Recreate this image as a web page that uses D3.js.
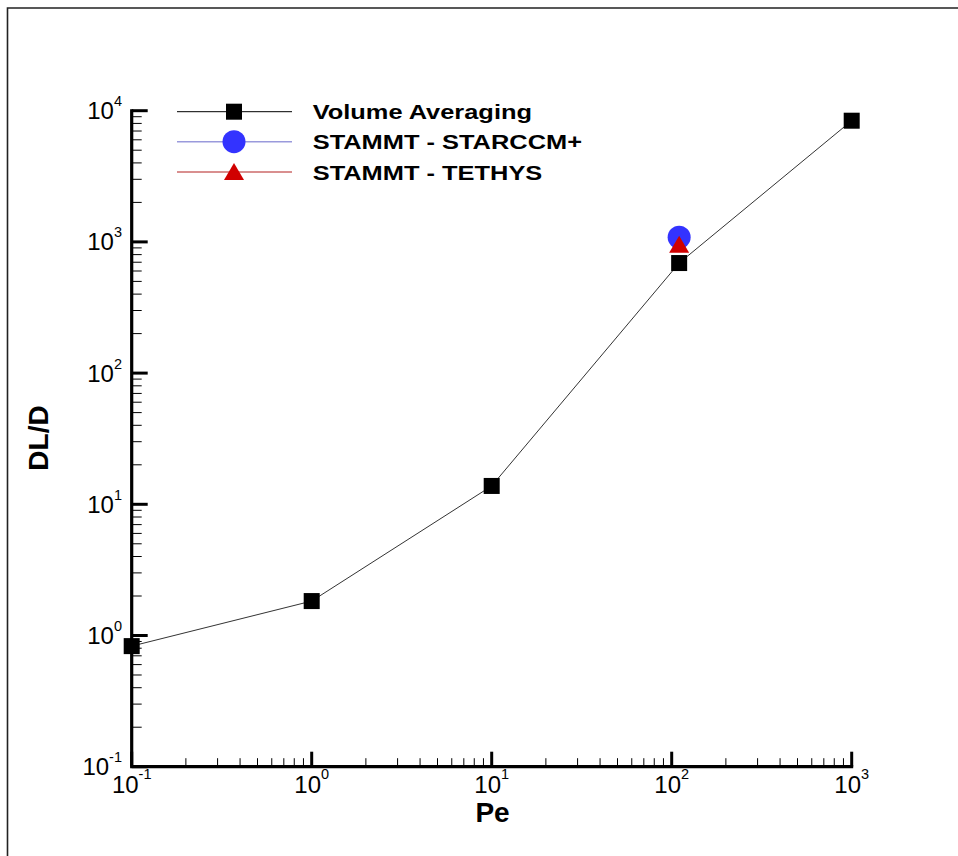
<!DOCTYPE html>
<html><head><meta charset="utf-8">
<script src="https://cdn.jsdelivr.net/npm/d3@7"></script>
<style>html,body{margin:0;padding:0;background:#fff;}svg{display:block;}</style>
</head><body>
<svg id="chart" width="958" height="856"></svg>
<script>
// ---- data ----
const peVA = [0.1, 1, 10, 110, 1000];
const dlVA = [0.83, 1.83, 13.8, 690, 8390];
const peStar = [110];
const dlStar = [1085];
const peTeth = [110];
const dlTeth = [935];
const xExponents = [-1, 0, 1, 2, 3];
const yExponents = [-1, 0, 1, 2, 3, 4];
const legendLabels = ["Volume Averaging", "STAMMT - STARCCM+", "STAMMT - TETHYS"];
const xTitle = "Pe";
const yTitle = "DL/D";

const svg = d3.select("#chart");
const font = "'Liberation Sans', Arial, Helvetica, sans-serif";

// frame
svg.append("path").attr("d","M7.5,856 V8 H958").attr("fill","none").attr("stroke","#222").attr("stroke-width",1.6);

const x = d3.scaleLog().domain([0.1, 1000]).range([131.7, 851.7]);
const y = d3.scaleLog().domain([0.1, 10000]).range([766.7, 110.7]);

const g = svg.append("g");

function minors(exps){
  const out=[];
  for(let i=0;i<exps.length-1;i++){for(let k=2;k<=9;k++){out.push(k*Math.pow(10,exps[i]));}}
  return out;
}
const x0 = x.range()[0], y0 = y.range()[0];
g.selectAll(".xminor").data(minors(xExponents)).enter().append("line")
  .attr("x1",d=>x(d)).attr("x2",d=>x(d)).attr("y1",y0).attr("y2",y0-8.5)
  .attr("stroke","#000").attr("stroke-width",1);
g.selectAll(".yminor").data(minors(yExponents)).enter().append("line")
  .attr("y1",d=>y(d)).attr("y2",d=>y(d)).attr("x1",x0).attr("x2",x0+10)
  .attr("stroke","#000").attr("stroke-width",1);
g.selectAll(".xmajor").data(xExponents).enter().append("line")
  .attr("x1",d=>x(Math.pow(10,d))).attr("x2",d=>x(Math.pow(10,d))).attr("y1",y0).attr("y2",y0-15)
  .attr("stroke","#000").attr("stroke-width",3);
g.selectAll(".ymajor").data(yExponents).enter().append("line")
  .attr("y1",d=>y(Math.pow(10,d))).attr("y2",d=>y(Math.pow(10,d))).attr("x1",x0).attr("x2",x0+16)
  .attr("stroke","#000").attr("stroke-width",3);
g.append("path").attr("d",`M${x0},${y(10000)-1.5} V${y0} H${x(1000)+1.5}`)
  .attr("fill","none").attr("stroke","#000").attr("stroke-width",3.2).attr("stroke-linejoin","miter");

const xl = g.selectAll(".xlab").data(xExponents).enter().append("text")
  .attr("x",d=>x(Math.pow(10,d))).attr("y",793.3).attr("text-anchor","middle")
  .attr("font-family",font).attr("font-size",24).attr("fill","#000");
xl.append("tspan").text("10");
xl.append("tspan").attr("font-size",14.5).attr("dy",-14.5).text(d=>String(d));

const yl = g.selectAll(".ylab").data(yExponents).enter().append("text")
  .attr("x",122).attr("y",d=>y(Math.pow(10,d))+8.5).attr("text-anchor","end")
  .attr("font-family",font).attr("font-size",24).attr("fill","#000");
yl.append("tspan").text("10");
yl.append("tspan").attr("font-size",14.5).attr("dy",-13).text(d=>String(d));

svg.append("text").attr("x",492.5).attr("y",822.3).attr("text-anchor","middle")
  .attr("font-family",font).attr("font-weight","bold").attr("font-size",28).text(xTitle);
svg.append("text").attr("transform","translate(48,438) rotate(-90)").attr("text-anchor","middle")
  .attr("font-family",font).attr("font-weight","bold").attr("font-size",28).text(yTitle);

const line = d3.line().x(d=>x(d[0])).y(d=>y(d[1]));
const vaPts = peVA.map((p,i)=>[p,dlVA[i]]);
svg.append("path").datum(vaPts).attr("d",line).attr("fill","none").attr("stroke","#333").attr("stroke-width",1);

const sq = 16;
svg.selectAll(".va").data(vaPts).enter().append("rect")
  .attr("x",d=>x(d[0])-sq/2).attr("y",d=>y(d[1])-sq/2).attr("width",sq).attr("height",sq).attr("fill","#000");
svg.selectAll(".st").data(peStar.map((p,i)=>[p,dlStar[i]])).enter().append("circle")
  .attr("cx",d=>x(d[0])).attr("cy",d=>y(d[1])).attr("r",11.5).attr("fill","#3333ff");
const tri = (cx,cy)=>`M${cx},${cy-10} L${cx+10},${cy+7} L${cx-10},${cy+7} Z`;
svg.selectAll(".te").data(peTeth.map((p,i)=>[p,dlTeth[i]])).enter().append("path")
  .attr("d",d=>tri(x(d[0]),y(d[1]))).attr("fill","#d00000");

const legColors = ["#000","#9a9adc","#cc6a6a"];
const legY = [111.7, 141.7, 172];
const leg = svg.append("g");
legendLabels.forEach((lab,i)=>{
  leg.append("line").attr("x1",177).attr("x2",292).attr("y1",legY[i]).attr("y2",legY[i])
    .attr("stroke",legColors[i]).attr("stroke-width",i===0?1:1.6);
  if(i===0) leg.append("rect").attr("x",234-sq/2).attr("y",legY[i]-sq/2).attr("width",sq).attr("height",sq).attr("fill","#000");
  if(i===1) leg.append("circle").attr("cx",234).attr("cy",legY[i]).attr("r",11.5).attr("fill","#3333ff");
  if(i===2) leg.append("path").attr("d",tri(234,legY[i]+1)).attr("fill","#d00000");
  leg.append("text").attr("transform",`translate(312.7,${legY[i]+7.6}) scale(1.24,1)`)
    .attr("font-family",font).attr("font-weight","bold").attr("font-size",20.5).text(lab);
});
</script>
</body></html>
